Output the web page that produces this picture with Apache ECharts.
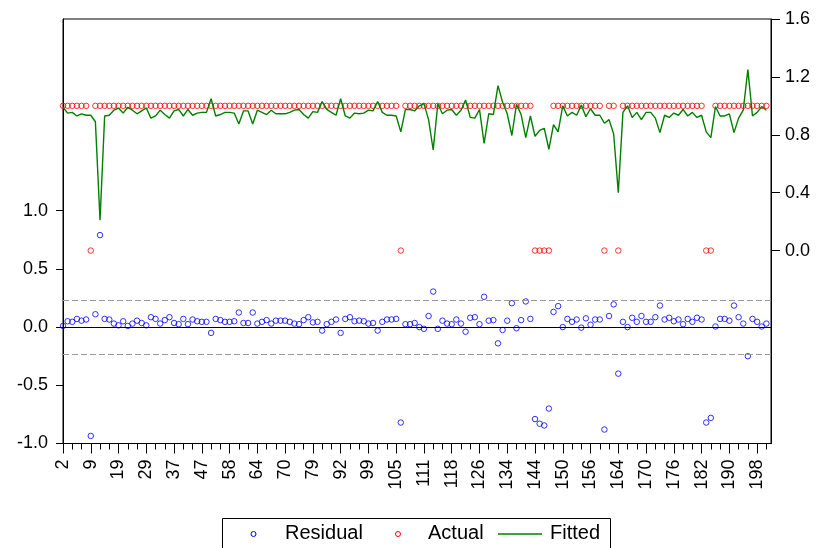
<!DOCTYPE html>
<html><head><meta charset="utf-8">
<script src="https://cdn.jsdelivr.net/npm/echarts@6/dist/echarts.min.js"></script>
<style>html,body{margin:0;padding:0;background:#fff}#c{width:819px;height:548px}</style>
</head><body><div id="c"></div>
<script>
// x-axis tick labels (observation numbers shown every 6th observation)
const tickLabels = [2,9,19,29,37,47,58,64,70,79,92,99,105,111,118,126,134,144,150,156,164,170,176,182,190,198];

// Residual (left axis)
const residual = [
 0.01,0.05,0.045,0.07,0.055,0.065,-0.935,0.11,0.79,0.07,
 0.065,0.03,0.015,0.05,0.01,0.03,0.055,0.035,0.015,0.085,
 0.07,0.03,0.06,0.085,0.035,0.025,0.07,0.025,0.065,0.05,
 0.045,0.045,-0.05,0.07,0.06,0.045,0.045,0.05,0.125,0.035,
 0.035,0.125,0.03,0.045,0.06,0.03,0.055,0.055,0.055,0.045,
 0.03,0.025,0.06,0.085,0.04,0.045,-0.03,0.025,0.045,0.065,
 -0.05,0.07,0.085,0.05,0.055,0.05,0.03,0.035,-0.03,0.045,
 0.065,0.065,0.07,-0.82,0.025,0.025,0.035,0.0,-0.015,0.095,
 0.305,-0.015,0.055,0.03,0.025,0.065,0.03,-0.04,0.08,0.085,
 0.025,0.26,0.055,0.06,-0.14,-0.025,0.055,0.205,-0.01,0.06,
 0.22,0.07,-0.79,-0.83,-0.845,-0.70,0.13,0.18,0.0,0.07,
 0.045,0.065,-0.005,0.075,0.02,0.065,0.065,-0.88,0.095,0.195,
 -0.40,0.045,0.0,0.08,0.045,0.095,0.045,0.045,0.085,0.185,
 0.065,0.08,0.05,0.065,0.025,0.07,0.045,0.08,0.065,-0.82,
 -0.78,0.005,0.07,0.07,0.055,0.185,0.085,0.03,-0.25,0.07,
 0.045,0.005,0.03
];

// Actual (right axis)
const actual = [
 1,1,1,1,1,1,0,1,1,1,
 1,1,1,1,1,1,1,1,1,1,
 1,1,1,1,1,1,1,1,1,1,
 1,1,1,1,1,1,1,1,1,1,
 1,1,1,1,1,1,1,1,1,1,
 1,1,1,1,1,1,1,1,1,1,
 1,1,1,1,1,1,1,1,1,1,
 1,1,1,0,1,1,1,1,1,1,
 1,1,1,1,1,1,1,1,1,1,
 1,1,1,1,1,1,1,1,1,1,
 1,1,0,0,0,0,1,1,1,1,
 1,1,1,1,1,1,1,0,1,1,
 0,1,1,1,1,1,1,1,1,1,
 1,1,1,1,1,1,1,1,1,0,
 0,1,1,1,1,1,1,1,1,1,
 1,1,1
];

// Fitted (right axis)
const fitted = [
 0.99,0.95,0.955,0.93,0.945,0.935,0.935,0.89,0.21,0.93,
 0.935,0.97,0.985,0.95,0.99,0.97,0.945,0.965,0.985,0.915,
 0.93,0.97,0.94,0.915,0.965,0.975,0.93,0.975,0.935,0.95,
 0.955,0.955,1.05,0.93,0.94,0.955,0.955,0.95,0.875,0.965,
 0.965,0.875,0.97,0.955,0.94,0.97,0.945,0.945,0.945,0.955,
 0.97,0.975,0.94,0.915,0.96,0.955,1.03,0.975,0.955,0.935,
 1.05,0.93,0.915,0.95,0.945,0.95,0.97,0.965,1.03,0.955,
 0.935,0.935,0.93,0.82,0.975,0.975,0.965,1.0,1.015,0.905,
 0.695,1.015,0.945,0.97,0.975,0.935,0.97,1.04,0.92,0.915,
 0.975,0.74,0.945,0.94,1.14,1.025,0.945,0.795,1.01,0.94,
 0.78,0.93,0.79,0.83,0.845,0.70,0.87,0.82,1.0,0.93,
 0.955,0.935,1.005,0.925,0.98,0.935,0.935,0.88,0.905,0.805,
 0.40,0.955,1.0,0.92,0.955,0.905,0.955,0.955,0.915,0.815,
 0.935,0.92,0.95,0.935,0.975,0.93,0.955,0.92,0.935,0.82,
 0.78,0.995,0.93,0.93,0.945,0.815,0.915,0.97,1.25,0.93,
 0.955,0.995,0.97
];

const leftTicks = [-1.0,-0.5,0.0,0.5,1.0];
const rightTicks = [0.0,0.4,0.8,1.2,1.6];
const seBand = 0.23;
const seriesNames = ['Residual', 'Actual', 'Fitted'];
const colors = {Residual: '#0000ff', Actual: '#ff0000', Fitted: '#008000'};

// observation ids (label shown every 6th)
const obs = [];
for (let i = 0; i < residual.length; i++) {
  obs.push(String(tickLabels[Math.floor(i / 6)] + (i % 6)));
}

const font = 'Arial, "Liberation Sans", Helvetica, sans-serif';
const chart = echarts.init(document.getElementById('c'), null, {renderer: 'canvas'});
const hollow = c => ({color: 'rgba(0,0,0,0)', borderColor: c, borderWidth: 1});

// legend drawn as graphic (box partly cut by the bottom edge as in the original)
const legendY = 534;
const legendGraphic = [
  {type: 'rect', shape: {x: 222.5, y: 518.5, width: 388, height: 40}, style: {fill: '#fff', stroke: '#000', lineWidth: 1}, z: 10},
  {type: 'circle', shape: {cx: 253.5, cy: legendY, r: 2.5}, style: {fill: 'none', stroke: colors.Residual, lineWidth: 1}, z: 11},
  {type: 'text', x: 285, y: legendY - 1, style: {text: seriesNames[0], fontSize: 20, fontFamily: font, fill: '#000', verticalAlign: 'middle'}, z: 11},
  {type: 'circle', shape: {cx: 398, cy: legendY, r: 2.5}, style: {fill: 'none', stroke: colors.Actual, lineWidth: 1}, z: 11},
  {type: 'text', x: 428, y: legendY - 1, style: {text: seriesNames[1], fontSize: 20, fontFamily: font, fill: '#000', verticalAlign: 'middle'}, z: 11},
  {type: 'line', shape: {x1: 498, y1: legendY, x2: 542, y2: legendY}, style: {stroke: colors.Fitted, lineWidth: 1.5}, z: 11},
  {type: 'text', x: 550, y: legendY - 1, style: {text: seriesNames[2], fontSize: 20, fontFamily: font, fill: '#000', verticalAlign: 'middle'}, z: 11}
];

chart.setOption({
  animation: false,
  backgroundColor: '#fff',
  textStyle: {fontFamily: font},
  grid: {left: 63, right: 48, top: 19, bottom: 104.5, show: true, borderColor: '#000', borderWidth: 1, backgroundColor: 'transparent'},
  legend: {show: false, data: seriesNames},
  graphic: legendGraphic,
  xAxis: [
    {type: 'category', data: obs, boundaryGap: false, max: 153,
     axisLine: {onZero: false, lineStyle: {color: '#000'}},
     axisTick: {interval: 1, length: 6, lineStyle: {color: '#000'}},
     axisLabel: {interval: 5, rotate: 90, margin: 16, fontSize: 18, color: '#000', fontFamily: font},
     splitLine: {show: false}},
    {type: 'category', data: obs, boundaryGap: false, max: 153, position: 'bottom',
     axisLine: {show: false, onZero: false},
     axisTick: {interval: 5, length: 10, lineStyle: {color: '#000'}},
     axisLabel: {show: false}, splitLine: {show: false}}
  ],
  yAxis: [
    {type: 'value', min: -1, max: 2.646, position: 'left',
     axisLine: {show: true, lineStyle: {color: '#000'}},
     axisTick: {show: true, length: 7, customValues: leftTicks, lineStyle: {color: '#000'}},
     axisLabel: {customValues: leftTicks, formatter: v => v.toFixed(1), fontSize: 18, color: '#000', margin: 15, fontFamily: font},
     splitLine: {show: false}},
    {type: 'value', min: -1.333, max: 1.6, position: 'right',
     axisLine: {show: true, lineStyle: {color: '#000'}},
     axisTick: {show: true, length: 9, customValues: rightTicks, lineStyle: {color: '#000'}},
     axisLabel: {customValues: rightTicks, formatter: v => v.toFixed(1), fontSize: 18, color: '#000', margin: 14, fontFamily: font},
     splitLine: {show: false}}
  ],
  series: [
    {name: seriesNames[0], type: 'scatter', xAxisIndex: 0, yAxisIndex: 0, data: residual,
     symbol: 'circle', symbolSize: 5.5, itemStyle: hollow(colors.Residual), z: 3,
     markLine: {silent: true, symbol: ['none', 'none'], label: {show: false},
       data: [
         {yAxis: 0, lineStyle: {color: '#000', type: 'solid', width: 1}},
         {yAxis: seBand, lineStyle: {color: '#999', type: [6, 3], width: 1}},
         {yAxis: -seBand, lineStyle: {color: '#999', type: [6, 3], width: 1}}
       ]}},
    {name: seriesNames[1], type: 'scatter', xAxisIndex: 0, yAxisIndex: 1, data: actual,
     symbol: 'circle', symbolSize: 5.5, itemStyle: hollow(colors.Actual), z: 3},
    {name: seriesNames[2], type: 'line', xAxisIndex: 0, yAxisIndex: 1, data: fitted,
     symbol: 'none', lineStyle: {color: colors.Fitted, width: 1.4}, itemStyle: {color: colors.Fitted}, z: 4}
  ]
});
</script>
</body></html>
